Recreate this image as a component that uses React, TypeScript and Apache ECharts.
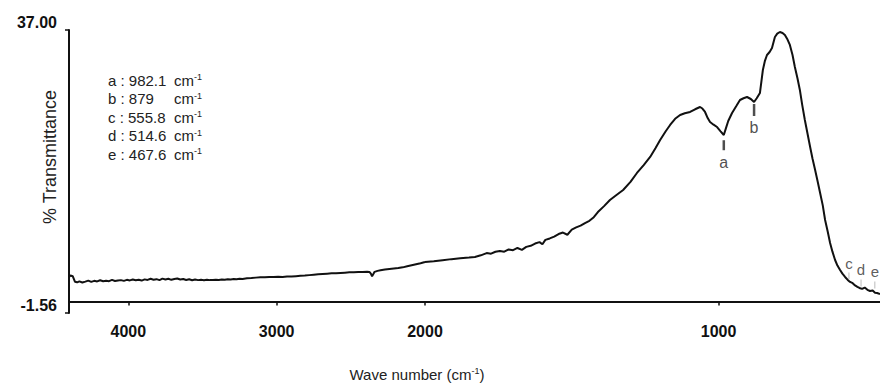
import React, { useEffect, useRef } from "react";
import * as echarts from "echarts";

// Wave numbers (cm-1) and % transmittance
const wavenumbers = [
  4400, 4390, 4375, 4360, 4345, 4330, 4310, 4290, 4270, 4250, 4230, 4210, 4190, 4170, 4150, 4130,
  4110, 4090, 4070, 4050, 4030, 4010, 3990, 3970, 3950, 3930, 3910, 3890, 3870, 3850, 3830, 3810,
  3790, 3770, 3750, 3730, 3710, 3690, 3670, 3650, 3630, 3610, 3590, 3570, 3550, 3530, 3510, 3490,
  3470, 3450, 3430, 3410, 3390, 3370, 3350, 3330, 3310, 3290, 3270, 3250, 3230, 3200, 3170, 3140,
  3110, 3080, 3050, 3020, 2990, 2960, 2930, 2900, 2870, 2840, 2810, 2780, 2750, 2720, 2690, 2660,
  2630, 2600, 2570, 2540, 2510, 2480, 2450, 2420, 2390, 2375, 2365, 2357, 2350, 2340, 2320, 2300,
  2270, 2240, 2210, 2180, 2150, 2120, 2090, 2060, 2030, 2000,
  1970, 1940, 1910, 1880, 1850, 1830, 1810, 1790, 1775, 1760, 1745, 1730, 1715, 1700, 1685, 1670,
  1655, 1640, 1625, 1610, 1600, 1590, 1575, 1560, 1545, 1530, 1515, 1500, 1485, 1470, 1455, 1440,
  1425, 1411, 1390, 1370, 1350, 1325, 1300, 1278, 1255, 1233, 1215, 1199, 1180, 1165, 1148, 1131,
  1115, 1097, 1080, 1063, 1055, 1046, 1037, 1029, 1017, 1005, 993, 982.1, 975, 967, 954, 940,
  927, 915, 903, 890, 879, 870, 859, 849, 842, 835, 826, 818, 808, 800, 791, 782,
  774, 765, 757, 748, 740, 731, 723, 715, 706, 697, 688, 680, 671, 662, 654, 645,
  637, 628, 620, 612, 603, 595, 586, 578, 569, 560, 552, 543, 535, 527, 520, 511,
  502, 493, 484, 475, 467, 460, 450,
];
const transmittance = [
  3.35, 3.55, 3.45, 2.7, 2.62, 2.75, 2.6, 2.72, 2.85, 2.68, 2.82, 2.74, 2.9, 2.76, 2.84, 2.78,
  2.95, 2.8, 2.88, 2.92, 2.82, 2.96, 2.88, 3.0, 2.9, 2.98, 2.86, 3.02, 2.95, 3.1, 2.98, 3.05,
  2.92, 3.12, 3.0, 3.1, 2.96, 3.06, 3.14, 3.0, 3.08, 2.94, 3.04, 2.9, 3.0, 2.92, 2.96, 2.9,
  2.98, 2.92, 2.94, 2.98, 2.94, 3.0, 2.96, 3.04, 3.0, 3.06, 3.04, 3.1, 3.08, 3.16, 3.2, 3.26,
  3.32, 3.3, 3.36, 3.34, 3.38, 3.36, 3.42, 3.4, 3.46, 3.5, 3.54, 3.6, 3.66, 3.72, 3.76, 3.8,
  3.84, 3.86, 3.9, 3.94, 3.98, 4.0, 4.02, 4.04, 4.06, 4.04, 3.8, 3.45, 3.7, 4.05, 4.18, 4.26,
  4.36, 4.44, 4.5, 4.56, 4.66, 4.8, 4.94, 5.08, 5.22, 5.39,
  5.5, 5.64, 5.78, 5.9, 6.0, 6.08, 6.3, 6.6, 6.52, 6.78, 6.9, 6.8, 7.1, 7.0, 7.3, 7.05,
  7.45, 7.6, 7.9, 8.1, 7.8, 8.4, 8.6, 8.85, 9.2, 9.4, 9.1, 9.8, 10.1, 10.35, 10.7, 11.0,
  11.5, 12.2, 13.0, 13.84, 14.45, 15.2, 16.3, 17.52, 18.6, 19.7, 20.9, 22.01, 23.2, 24.06, 24.9, 25.42,
  25.65, 25.83, 26.2, 26.51, 26.3, 25.83, 25.0, 24.47, 24.1, 23.78, 23.2, 22.69, 23.6, 24.6, 25.69, 26.6,
  27.46, 27.7, 27.87, 27.6, 27.19, 27.7, 28.42, 31.55, 32.8, 33.59, 34.0, 34.55, 36.05, 36.5, 36.73, 36.6,
  36.32, 35.7, 34.96, 33.6, 31.96, 30.4, 28.83, 26.8, 24.74, 22.9, 21.06, 19.5, 17.93, 16.3, 14.79, 13.1,
  11.11, 9.5, 7.98, 6.8, 5.66, 4.9, 4.3, 3.8, 3.35, 2.95, 2.67, 2.5, 2.2, 2.0, 1.85, 1.72,
  1.9, 1.6, 1.44, 1.5, 1.2, 1.17, 1.03,
];

// Axis ranges and tick labels
const yMin = -1.56;
const yMax = 37.0;
const highRange = [2000, 4400];
const lowRange = [450, 2000];
const highTicks = [4000, 3000, 2000];
const lowTicks = [1000];

// Assigned bands
const peakNames = ["a", "b", "c", "d", "e"];
const peakWavenumbers = [982.1, 879, 555.8, 514.6, 467.6];
const peakTextValues = ["982.1", "879", "555.8", "514.6", "467.6"];
const peakMarkerValues = [21.3, 26.1, 3.48, 2.53, 2.26];

const FONT = "'Liberation Sans', Arial, Helvetica, sans-serif";

export default function App() {
  const ref = useRef<HTMLDivElement>(null);

  useEffect(() => {
    if (!ref.current) return;
    const chart = echarts.init(ref.current, null, { renderer: "svg" });

    const pairs = wavenumbers.map((w, i) => [w, transmittance[i]]);
    const highData = pairs.filter((p) => p[0] >= 2000);
    const lowData = pairs.filter((p) => p[0] <= 2000);

    const strongPeaks = peakNames.slice(0, 2).map((n, i) => ({
      name: n,
      value: [peakWavenumbers[i], peakMarkerValues[i]],
      symbolSize: i === 0 ? [2.5, 10] : [2.5, 12],
    }));
    const weakPeaks = peakNames.slice(2).map((n, j) => ({
      name: n,
      value: [peakWavenumbers[j + 2], peakMarkerValues[j + 2]],
    }));

    const xLabelStyle = {
      fontFamily: FONT,
      fontWeight: "bold" as const,
      fontSize: 16,
      color: "#111",
      margin: 10,
      formatter: (v: number) => String(v),
    };

    const legendGraphics: any[] = [];
    peakNames.forEach((n, i) => {
      const y = 80 + i * 18.5;
      legendGraphics.push({
        type: "text",
        x: 108,
        y,
        style: {
          text: `${n} : ${peakTextValues[i]}`,
          fontFamily: FONT,
          fontSize: 15,
          fill: "#222",
          verticalAlign: "middle",
          align: "left",
        },
      });
      legendGraphics.push({
        type: "text",
        x: 174,
        y,
        style: {
          text: "cm{s|-1}",
          fontFamily: FONT,
          fontSize: 15,
          fill: "#222",
          verticalAlign: "middle",
          align: "left",
          rich: {
            s: { fontSize: 9, verticalAlign: "top", fontFamily: FONT, fill: "#222" },
          },
        },
      });
    });

    chart.setOption({
      animation: false,
      backgroundColor: "#fff",
      grid: [
        { left: 69, top: 30, width: 356, height: 283 },
        { left: 425, top: 30, width: 455, height: 283 },
      ],
      xAxis: [
        {
          type: "value",
          gridIndex: 0,
          min: highRange[0],
          max: highRange[1],
          inverse: true,
          axisLine: { show: true, lineStyle: { color: "#111", width: 2 } },
          axisTick: { show: true, customValues: highTicks, length: 4, lineStyle: { color: "#111", width: 1.5 } },
          axisLabel: { ...xLabelStyle, customValues: highTicks },
          splitLine: { show: false },
        },
        {
          type: "value",
          gridIndex: 1,
          min: lowRange[0],
          max: lowRange[1],
          inverse: true,
          axisLine: { show: true, lineStyle: { color: "#111", width: 2 } },
          axisTick: { show: true, customValues: lowTicks, length: 4, lineStyle: { color: "#111", width: 1.5 } },
          axisLabel: { ...xLabelStyle, customValues: lowTicks },
          splitLine: { show: false },
        },
      ],
      yAxis: [
        {
          type: "value",
          gridIndex: 0,
          min: yMin,
          max: yMax,
          axisLine: { show: true, lineStyle: { color: "#111", width: 2 } },
          axisTick: { show: true, customValues: [yMin, yMax], length: 4, lineStyle: { color: "#111", width: 1.5 } },
          axisLabel: {
            customValues: [yMin, yMax],
            formatter: (v: number) => v.toFixed(2),
            fontFamily: FONT,
            fontWeight: "bold",
            fontSize: 16,
            color: "#111",
            margin: 12,
            verticalAlign: "bottom",
          },
          splitLine: { show: false },
        },
        {
          type: "value",
          gridIndex: 1,
          min: yMin,
          max: yMax,
          show: false,
          splitLine: { show: false },
        },
      ],
      series: [
        {
          type: "line",
          xAxisIndex: 0,
          yAxisIndex: 0,
          data: highData,
          showSymbol: false,
          symbol: "none",
          lineStyle: { color: "#111", width: 2 },
        },
        {
          type: "line",
          xAxisIndex: 1,
          yAxisIndex: 1,
          data: lowData,
          showSymbol: false,
          symbol: "none",
          lineStyle: { color: "#111", width: 2 },
        },
        {
          type: "scatter",
          xAxisIndex: 1,
          yAxisIndex: 1,
          symbol: "rect",
          data: strongPeaks,
          clip: false,
          itemStyle: { color: "#222" },
          label: {
            show: true,
            position: "bottom",
            distance: 4,
            formatter: "{b}",
            fontFamily: FONT,
            fontSize: 16,
            color: "#222",
          },
        },
        {
          type: "scatter",
          xAxisIndex: 1,
          yAxisIndex: 1,
          symbol: "rect",
          symbolSize: [1, 7],
          data: weakPeaks,
          clip: false,
          itemStyle: { color: "#aaa" },
          label: {
            show: true,
            position: "top",
            distance: 2,
            formatter: "{b}",
            fontFamily: FONT,
            fontSize: 15,
            color: "#333",
          },
        },
      ],
      graphic: [
        {
          type: "text",
          x: 50,
          y: 157,
          rotation: Math.PI / 2,
          style: {
            text: "% Transmittance",
            fontFamily: FONT,
            fontSize: 18,
            fill: "#222",
            align: "center",
            verticalAlign: "middle",
          },
        },
        {
          type: "text",
          x: 417,
          y: 374,
          style: {
            text: "Wave number (cm{s|-1})",
            fontFamily: FONT,
            fontSize: 15,
            fill: "#222",
            align: "center",
            verticalAlign: "middle",
            rich: {
              s: { fontSize: 9, verticalAlign: "top", fontFamily: FONT, fill: "#222" },
            },
          },
        },
        ...legendGraphics,
      ],
    });

    return () => chart.dispose();
  }, []);

  return (
    <div
      ref={ref}
      style={{ position: "fixed", left: 0, top: 0, width: 880, height: 388, background: "#fff" }}
    />
  );
}
